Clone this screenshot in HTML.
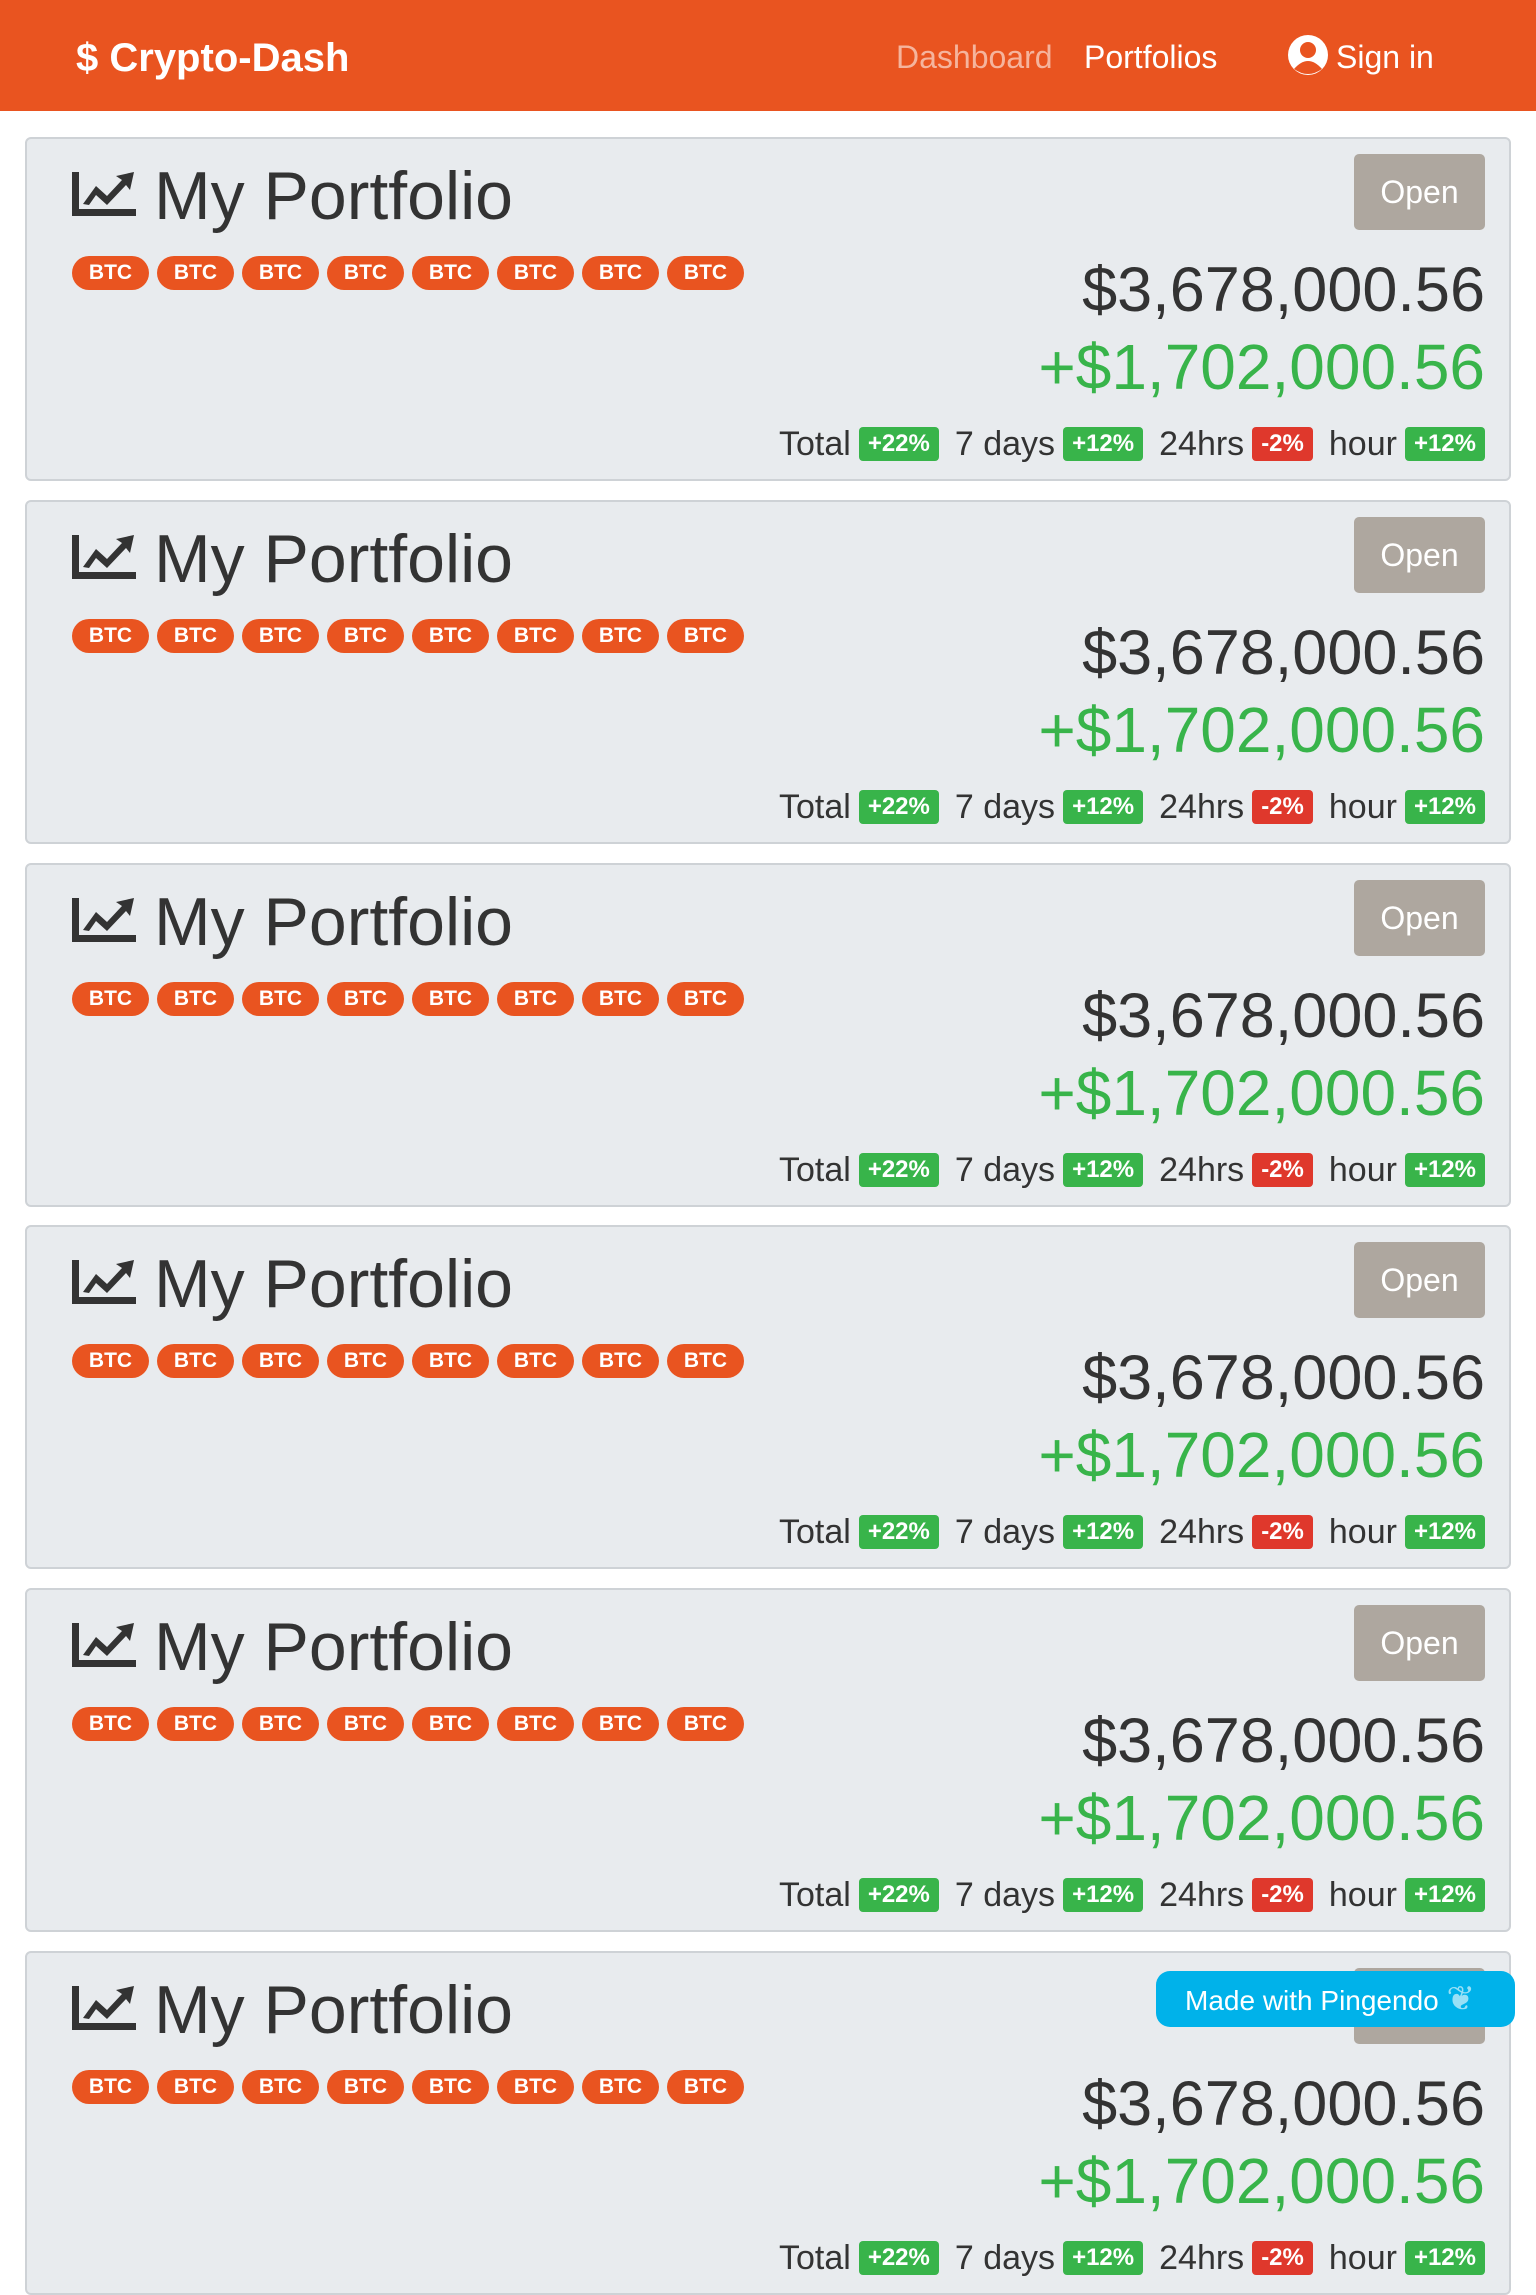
<!DOCTYPE html>
<html><head><meta charset="utf-8"><style>
*{box-sizing:border-box;margin:0;padding:0}
body{width:1536px;height:2048px;overflow:hidden;background:#fff;font-family:"Liberation Sans",sans-serif;position:relative}
.nav{position:absolute;left:0;top:0;width:1536px;height:111px;background:#E95420}
.brand{position:absolute;left:76px;top:38px;font-size:40px;font-weight:bold;color:#fff;line-height:40px}
.nl{position:absolute;top:41px;font-size:32px;line-height:32px;color:#fff}
.card{position:absolute;left:25px;width:1486px;height:344px;background:#E8EBEE;border:2px solid #CED2D6;border-radius:6px;overflow:hidden}
.icon{position:absolute;left:45px;top:33px}
.title{position:absolute;left:127px;top:23px;font-size:68px;line-height:68px;color:#333}
.open{position:absolute;right:24px;top:15px;width:131px;height:76px;background:#AEA79F;border-radius:5px;color:#fff;font-size:32px;line-height:76px;text-align:center}
.badges{position:absolute;left:45px;top:117px;display:flex;gap:8px}
.btc{width:77px;height:34px;border-radius:17px;background:#E95420;color:#fff;font-weight:bold;font-size:21px;line-height:34px;text-align:center}
.price{position:absolute;right:24px;top:120px;font-size:63px;line-height:63px;color:#333}
.gain{position:absolute;right:24px;top:196px;font-size:64px;line-height:64px;color:#38B44A}
.stats{position:absolute;right:24px;top:287px;display:flex;align-items:center;font-size:34px;color:#333;height:36px}
.st{margin-left:16px;margin-right:8px}
.st:first-child{margin-left:0}
.pb{height:34px;padding:0 9px;border-radius:4px;color:#fff;font-weight:bold;font-size:24px;line-height:34px}
.g{background:#38B44A}.r{background:#DF382C}
.ping{position:absolute;left:1156px;top:1971px;width:359px;height:56px;background:#00B2EA;border-radius:14px;color:#fff;font-size:28px;line-height:56px;padding-left:29px}
</style></head><body>
<div class="nav">
<div class="brand">$ Crypto-Dash</div>
<div class="nl" style="left:896px;color:#F5B49D">Dashboard</div>
<div class="nl" style="left:1084px">Portfolios</div>
<svg style="position:absolute;left:1286px;top:33px" width="44" height="44" viewBox="0 0 44 44"><circle cx="22" cy="22" r="20" fill="#fff"/><circle cx="22" cy="17" r="8" fill="#E95420"/><path d="M8 36 Q22 20 36 36 Q22 46 8 36Z" fill="#E95420"/></svg>
<div class="nl" style="left:1336px">Sign in</div>
</div>

<div class="card" id="c0" style="top:137px">
<svg class="icon" width="64" height="44" viewBox="0 0 64 44"><path d="M0 0h7v37h57v7H0z" fill="#333"/><path d="M11 32 L24 14 L35 24 L50 8 L44 4 L62 0 L58 18 L54 13 L35 33 L24 23 L17 33z" fill="#333"/></svg>
<div class="title">My Portfolio</div>
<div class="open">Open</div>
<div class="badges">
<div class="btc">BTC</div><div class="btc">BTC</div><div class="btc">BTC</div><div class="btc">BTC</div><div class="btc">BTC</div><div class="btc">BTC</div><div class="btc">BTC</div><div class="btc">BTC</div>
</div>
<div class="price">$3,678,000.56</div>
<div class="gain">+$1,702,000.56</div>
<div class="stats">
<span class="st">Total</span><span class="pb g">+22%</span>
<span class="st">7 days</span><span class="pb g">+12%</span>
<span class="st">24hrs</span><span class="pb r">-2%</span>
<span class="st">hour</span><span class="pb g">+12%</span>
</div>
</div>

<div class="ping">Made with Pingendo <span style="opacity:.6;font-size:34px">❦</span></div>
<script>
var tops=[500,863,1225,1588,1951];
var src=document.getElementById('c0');
var ping=document.querySelector('.ping');
tops.forEach(function(t){
var c=src.cloneNode(true);c.removeAttribute('id');c.style.top=t+'px';


document.body.insertBefore(c,ping);
});
</script>
</body></html>
